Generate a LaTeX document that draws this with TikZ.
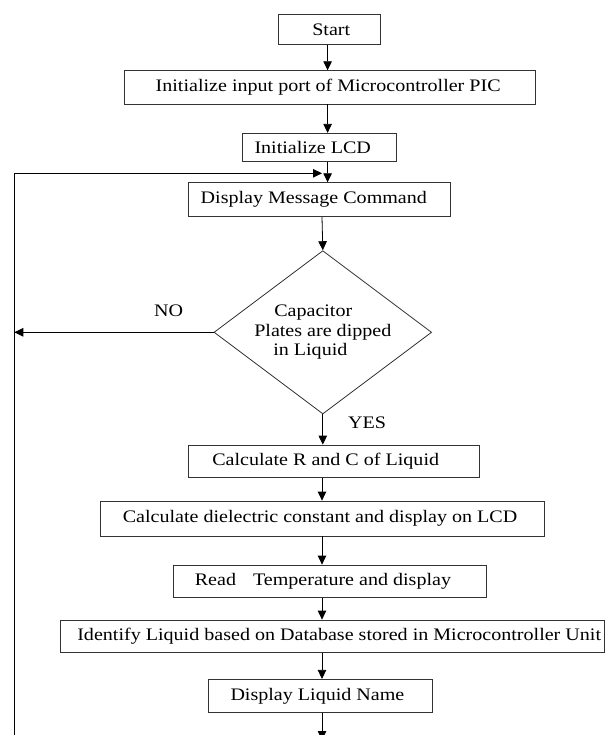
\documentclass[tikz,border=0pt]{standalone}
\usepackage{fontspec}
\setmainfont{Liberation Serif}[FakeStretch=1.14]
\usetikzlibrary{shapes.geometric,arrows.meta}
\newcommand\ffont{\fontsize{17.6}{19.5}\selectfont}
\begin{document}
\begin{tikzpicture}[x=1pt,y=-1pt,
  box/.style={draw=black!80,line width=0.8pt,inner sep=0pt},
  lab/.style={anchor=west,inner sep=0pt,font=\ffont},
  arr/.style={-{Triangle[length=9pt,width=8.5pt]},line width=0.8pt},
  txt/.style={font=\ffont,inner sep=0pt}]
\clip (0,0) rectangle (605,735);
\fill[white] (0,0) rectangle (605,735);
% boxes
\node[box,minimum width=102.4pt,minimum height=30pt] (start) at (329.6,29.3) {};
\node[lab,xshift=34.1pt] (tstart) at (start.west) {Start};
\node[box,minimum width=411pt,minimum height=33.3pt] (init) at (329.5,87.35) {};
\node[lab,xshift=31.9pt] (tinit) at (init.west) {Initialize input port of Microcontroller PIC};
\node[box,minimum width=154pt,minimum height=28.4pt] (lcd) at (319,147.5) {};
\node[lab,xshift=12.7pt] (tlcd) at (lcd.west) {Initialize LCD};
\node[box,minimum width=261.8pt,minimum height=34pt] (disp) at (319.7,199.7) {};
\node[lab,xshift=12.1pt] (tdisp) at (disp.west) {Display Message Command};
\node[diamond,draw=black!80,line width=0.8pt,inner sep=0pt,aspect=1.333,
      minimum width=217.6pt,minimum height=163.3pt,align=left,font=\ffont] (dia) at (322.8,332.3)
      {\hspace*{20pt}Capacitor\\Plates are dipped\\\hspace*{19pt}in Liquid};
\node[box,minimum width=290.8pt,minimum height=32.3pt] (calc) at (334.2,461.15) {};
\node[lab,xshift=23.7pt] (tcalc) at (calc.west) {Calculate R and C of Liquid};
\node[box,minimum width=444.8pt,minimum height=35pt] (diel) at (322.4,518.5) {};
\node[lab,xshift=23pt] (tdiel) at (diel.west) {Calculate dielectric constant and display on LCD};
\node[box,minimum width=313.6pt,minimum height=32.7pt] (read) at (329.8,581.35) {};
\node[lab,xshift=22pt] (tread) at (read.west) {Read\hspace{17pt}Temperature and display};
\node[box,minimum width=544pt,minimum height=32.7pt] (ident) at (332,636.35) {};
\node[lab,xshift=17.5pt] (tident) at (ident.west) {Identify Liquid based on Database stored in Microcontroller Unit};
\node[box,minimum width=224pt,minimum height=33pt] (name) at (320,695.8) {};
\node[lab,xshift=22.7pt] (tname) at (name.west) {Display Liquid Name};
% labels
\node[txt] (no) at (168.6,310.7) {NO};
\node[txt] (yes) at (367,422.3) {YES};
% axes and loop points
\coordinate (axA) at (327.6,0);
\coordinate (axB) at (322,0);
\coordinate (lb) at (14.3,760);
\coordinate (lt) at (14.3,173.3);
\coordinate (bot) at (322,740);
% connectors
\draw[arr] (start.south -| axA) -- (init.north -| axA);
\draw[arr] (init.south -| axA) -- (lcd.north -| axA);
\draw[arr] (lcd.south -| axA) -- (disp.north -| axA);
\draw[arr] (lb) -- (lt) -- (lt -| axB);
\draw[arr] (disp.south -| axB) -- (dia.north);
\draw[arr] (dia.west) -- (dia.west -| lt);
\draw[arr] (dia.south) -- (calc.north -| dia.south);
\draw[arr] (calc.south -| axB) -- (diel.north -| axB);
\draw[arr] (diel.south -| axB) -- (read.north -| axB);
\draw[arr] (read.south -| axB) -- (ident.north -| axB);
\draw[arr] (ident.south -| axB) -- (name.north -| axB);
\draw[arr] (name.south -| axB) -- (bot);
\end{tikzpicture}
\end{document}
